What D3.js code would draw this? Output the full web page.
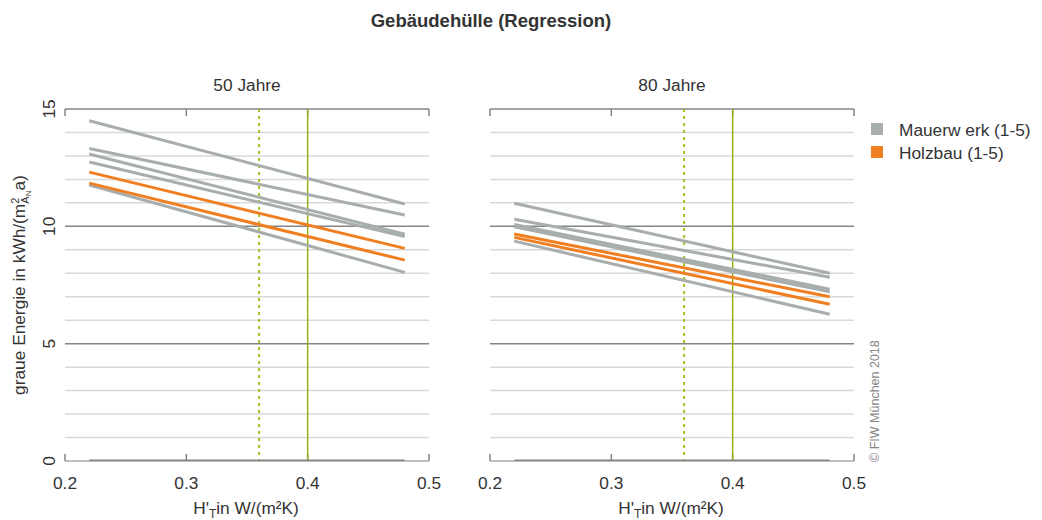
<!DOCTYPE html>
<html>
<head>
<meta charset="utf-8">
<title>Gebäudehülle (Regression)</title>
<style>
  body { margin: 0; background: #fff; }
  svg { font-family: "Liberation Sans", Arial, sans-serif; }
  .grid { stroke: #d9d9d9; stroke-width: 1.5px; }
  .grid.major { stroke: #858585; }
  .frame { stroke: #858585; stroke-width: 1.5px; fill: none; }
  .series { fill: none; stroke-width: 3px; }
  .tick-label { font-size: 17.3px; fill: #333; }
</style>
</head>
<body>
<svg width="1042" height="520"></svg>
<script src="https://cdn.jsdelivr.net/npm/d3@7"></script>
<script>
// x range of the regression lines
const xStart = 0.22, xEnd = 0.48;

const panels = ["50 Jahre", "80 Jahre"];

// [value at 0.22, value at 0.48] for each line, per panel
const mauerwerk50 = [[14.5, 10.95], [13.32, 10.48], [13.08, 9.66], [12.74, 9.56], [11.76, 8.04], [0, 0]];
const holzbau50   = [[12.31, 9.06], [11.84, 8.56]];
const mauerwerk80 = [[10.98, 8.0], [10.30, 7.83], [10.08, 7.32], [9.98, 7.21], [9.37, 6.25], [0, 0]];
const holzbau80   = [[9.67, 7.0], [9.53, 6.68]];

const xTicks = [0.2, 0.3, 0.4, 0.5];
const yTicks = [0, 5, 10, 15];
const refDashed = 0.36, refSolid = 0.4;

const colGray = "#a7aead", colOrange = "#f07f22", colGreen = "#98b014";

const svg = d3.select("svg");
const y = d3.scaleLinear().domain([0, 15]).range([461, 109]);

const panelRanges = [[65, 429], [490, 854]];
const panelData = [
  { gray: mauerwerk50, orange: holzbau50 },
  { gray: mauerwerk80, orange: holzbau80 }
];

svg.append("text")
  .attr("x", 491).attr("y", 27)
  .attr("text-anchor", "middle")
  .attr("font-size", 18.5).attr("font-weight", "bold").attr("fill", "#333")
  .text("Gebäudehülle (Regression)");

panels.forEach((name, i) => {
  const x = d3.scaleLinear().domain([0.2, 0.5]).range(panelRanges[i]);
  const g = svg.append("g");
  const clipId = "clip" + i;
  svg.append("clipPath").attr("id", clipId).append("rect")
    .attr("x", x(0.2)).attr("y", y(15)).attr("width", x(0.5) - x(0.2)).attr("height", y(0) - y(15));

  // horizontal grid
  g.selectAll(".grid").data(d3.range(1, 15))
    .enter().append("line")
    .attr("class", d => d % 5 === 0 ? "grid major" : "grid")
    .attr("x1", x(0.2)).attr("x2", x(0.5))
    .attr("y1", d => y(d)).attr("y2", d => y(d));

  // top and bottom frame lines with ticks
  g.append("line").attr("class", "frame")
    .attr("x1", x(0.2)).attr("x2", x(0.5)).attr("y1", y(15)).attr("y2", y(15));
  g.append("line").attr("class", "frame").style("stroke", "#a8a8a8")
    .attr("x1", x(0.2)).attr("x2", x(0.5)).attr("y1", y(0)).attr("y2", y(0));
  g.selectAll(".ttop").data(xTicks).enter().append("line").attr("class", "frame")
    .attr("x1", d => x(d)).attr("x2", d => x(d)).attr("y1", y(15)).attr("y2", y(15) + 7);
  g.selectAll(".tbot").data(xTicks).enter().append("line").attr("class", "frame")
    .attr("x1", d => x(d)).attr("x2", d => x(d)).attr("y1", y(0)).attr("y2", y(0) - 7);

  // reference lines
  g.append("line")
    .attr("x1", x(refDashed)).attr("x2", x(refDashed)).attr("y1", y(15)).attr("y2", y(0))
    .attr("stroke", "#a0c01c").attr("stroke-width", 2).attr("stroke-dasharray", "3,4");
  g.append("line")
    .attr("x1", x(refSolid)).attr("x2", x(refSolid)).attr("y1", y(15)).attr("y2", y(0))
    .attr("stroke", colGreen).attr("stroke-width", 1.5);

  // regression lines
  const line = d3.line().x(d => x(d[0])).y(d => y(d[1]));
  const lines = g.append("g").attr("clip-path", `url(#${clipId})`);
  [["gray", colGray], ["orange", colOrange]].forEach(([key, col]) => {
    lines.selectAll(".s-" + key).data(panelData[i][key])
      .enter().append("path")
      .attr("class", "series")
      .attr("stroke", d => (d[0] === 0 && d[1] === 0) ? "#858585" : col)
      .attr("d", d => line([[xStart, d[0]], [xEnd, d[1]]]));
  });

  // x tick labels
  g.selectAll(".xl").data(xTicks).enter().append("text")
    .attr("class", "tick-label")
    .attr("x", d => x(d)).attr("y", 489)
    .attr("text-anchor", "middle")
    .text(d => d.toFixed(1));

  // panel title
  g.append("text")
    .attr("x", (x(0.2) + x(0.5)) / 2).attr("y", 91)
    .attr("text-anchor", "middle").attr("font-size", 17.3).attr("fill", "#333")
    .text(name);

  // x axis title
  const xt = g.append("text")
    .attr("x", (x(0.2) + x(0.5)) / 2 - 1).attr("y", 514)
    .attr("text-anchor", "middle").attr("font-size", 17.3).attr("fill", "#333");
  xt.append("tspan").text("H'");
  xt.append("tspan").attr("dy", 4).attr("font-size", 12).text("T");
  xt.append("tspan").attr("dy", -4).text("in W/(m²K)");
});

// y tick labels (left panel only, rotated)
svg.selectAll(".yl").data(yTicks).enter().append("text")
  .attr("class", "tick-label")
  .attr("transform", d => `translate(55,${y(d)}) rotate(-90)`)
  .attr("text-anchor", "middle")
  .text(d => d);

// y axis title
const yt = svg.append("text")
  .attr("transform", "translate(25,285) rotate(-90)")
  .attr("text-anchor", "middle").attr("font-size", 17.3).attr("fill", "#333");
yt.append("tspan").text("graue Energie in kWh/(m");
yt.append("tspan").attr("dy", -6).attr("font-size", 11).text("2");
yt.append("tspan").attr("dx", -6).attr("dy", 10).attr("font-size", 11).text("A");
yt.append("tspan").attr("dy", 2).attr("font-size", 8).text("N");
yt.append("tspan").attr("dy", -6).text("a)");

// legend
const legendItems = ["Mauerw erk (1-5)", "Holzbau (1-5)"];
const legendColors = [colGray, colOrange];
const leg = svg.selectAll(".legend").data(legendItems).enter().append("g")
  .attr("transform", (d, i) => `translate(871,${123 + i * 23})`);
leg.append("rect").attr("width", 12).attr("height", 12).attr("fill", (d, i) => legendColors[i]);
leg.append("text").attr("x", 28).attr("y", 13)
  .attr("font-size", 17.3).attr("fill", "#333").text(d => d);

// copyright
svg.append("text")
  .attr("transform", "translate(879,462) rotate(-90)")
  .attr("font-size", 12.5).attr("fill", "#888")
  .text("© FIW  München 2018");
</script>
</body>
</html>
